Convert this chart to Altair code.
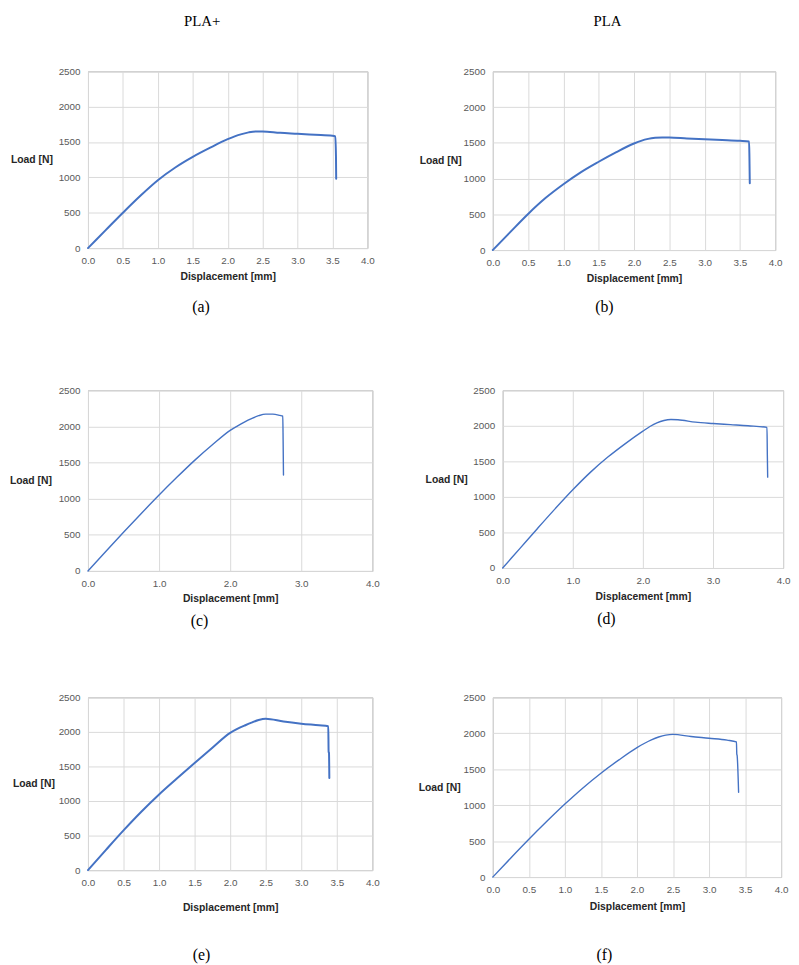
import altair as alt
import pandas as pd

# ---------------- data ----------------
PANELS = ["(a)", "(b)", "(c)", "(d)", "(e)", "(f)"]
COLUMN_TITLES = ["PLA+", "PLA"]
X_TITLE = "Displacement [mm]"
Y_TITLE = "Load [N]"
Y_TICKS = [0, 500, 1000, 1500, 2000, 2500]
X_TICKS_FINE = [0.0, 0.5, 1.0, 1.5, 2.0, 2.5, 3.0, 3.5, 4.0]
X_TICKS_COARSE = [0.0, 1.0, 2.0, 3.0, 4.0]

A_X = [0, 0.25, 0.5, 0.75, 1.0, 1.25, 1.5, 1.75, 2.0, 2.1, 2.2, 2.3, 2.4, 2.5, 2.75, 3.0, 3.25, 3.5, 3.54, 3.55, 3.553]
A_Y = [0, 250, 500, 740, 960, 1140, 1290, 1420, 1540, 1580, 1612, 1637, 1650, 1650, 1630, 1617, 1603, 1589, 1580, 1300, 981]

B_X = [0, 0.25, 0.5, 0.75, 1.0, 1.25, 1.5, 1.75, 2.0, 2.1, 2.2, 2.3, 2.4, 2.5, 2.75, 3.0, 3.25, 3.5, 3.63, 3.635, 3.64]
B_Y = [0, 255, 505, 730, 920, 1090, 1235, 1370, 1490, 1528, 1555, 1570, 1576, 1574, 1562, 1551, 1540, 1528, 1519, 1300, 935]

C_X = [0, 0.25, 0.5, 0.75, 1.0, 1.25, 1.5, 1.75, 2.0, 2.1, 2.2, 2.3, 2.4, 2.5, 2.6, 2.7, 2.74, 2.745, 2.75]
C_Y = [0, 270, 535, 795, 1050, 1295, 1530, 1745, 1945, 2005, 2060, 2108, 2148, 2170, 2170, 2152, 2142, 1800, 1326]

D_X = [0, 0.25, 0.5, 0.75, 1.0, 1.25, 1.5, 1.75, 2.0, 2.1, 2.2, 2.3, 2.4, 2.5, 2.75, 3.0, 3.25, 3.5, 3.77, 3.775, 3.78]
D_Y = [0, 280, 560, 835, 1100, 1345, 1560, 1750, 1925, 1990, 2042, 2075, 2088, 2085, 2051, 2032, 2016, 2000, 1977, 1600, 1278]

E_X = [0, 0.25, 0.5, 0.75, 1.0, 1.25, 1.5, 1.75, 2.0, 2.1, 2.2, 2.3, 2.4, 2.5, 2.75, 3.0, 3.25, 3.38, 3.385, 3.39, 3.395]
E_Y = [0, 290, 575, 845, 1095, 1325, 1550, 1770, 1985, 2042, 2090, 2135, 2172, 2190, 2150, 2119, 2095, 2081, 1710, 1700, 1333]

F_X = [0, 0.25, 0.5, 0.75, 1.0, 1.25, 1.5, 1.75, 2.0, 2.1, 2.2, 2.3, 2.4, 2.5, 2.75, 3.0, 3.25, 3.38, 3.385, 3.39, 3.41]
F_Y = [0, 265, 525, 775, 1015, 1240, 1445, 1630, 1800, 1858, 1908, 1948, 1975, 1985, 1955, 1931, 1905, 1880, 1710, 1690, 1180]

SERIES = {
    "(a)": (A_X, A_Y), "(b)": (B_X, B_Y), "(c)": (C_X, C_Y),
    "(d)": (D_X, D_Y), "(e)": (E_X, E_Y), "(f)": (F_X, F_Y),
}
X_TICKS = {"(a)": X_TICKS_FINE, "(b)": X_TICKS_FINE, "(c)": X_TICKS_COARSE,
           "(d)": X_TICKS_COARSE, "(e)": X_TICKS_FINE, "(f)": X_TICKS_FINE}

# ---------------- styling / layout ----------------
BLUE = "#4472C4"
SANS = "Liberation Sans"
SERIF = "Liberation Serif"

LAYOUT = {
    "(a)": dict(w=283, h=179, tx=-36, ytp=0, xtp=6, cap=17, cdx=-27, sw=2.0),
    "(b)": dict(w=286, h=181, tx=-32, ytp=4, xtp=6, cap=15, cdx=-30, sw=2.0),
    "(c)": dict(w=288, h=183, tx=-37, ytp=4, xtp=5, cap=9, cdx=-31, sw=1.4),
    "(d)": dict(w=284, h=180, tx=-36, ytp=4, xtp=6, cap=9, cdx=-37, sw=1.4),
    "(e)": dict(w=288, h=175, tx=-34, ytp=-2, xtp=15, cap=35, cdx=-29, sw=2.0),
    "(f)": dict(w=292, h=182, tx=-33, ytp=4, xtp=7, cap=36, cdx=-33, sw=1.4),
}


def panel(key):
    xs, ys = SERIES[key]
    L = LAYOUT[key]
    df = pd.DataFrame({"x": xs, "y": ys, "i": list(range(len(xs)))})
    return alt.Chart(df).mark_line(
        color=BLUE, strokeWidth=L["sw"], strokeJoin="round", strokeCap="round",
        interpolate="monotone",
    ).encode(
        x=alt.X("x:Q", scale=alt.Scale(domain=[0, 4], nice=False),
                axis=alt.Axis(title=X_TITLE, values=X_TICKS[key], format=".1f",
                              labelFlush=False, titlePadding=L["xtp"])),
        y=alt.Y("y:Q", scale=alt.Scale(domain=[0, 2500], nice=False),
                axis=alt.Axis(title=Y_TITLE, values=Y_TICKS, format="d",
                              labelFlush=False, titleAngle=0, titlePadding=L["ytp"],
                              titleAlign="right", titleBaseline="middle",
                              titleX=L["tx"], titleY=L["h"] / 2)),
        order=alt.Order("i:Q"),
    ).properties(
        width=L["w"], height=L["h"],
        title=alt.TitleParams(key, orient="bottom", offset=L["cap"], dx=L["cdx"],
                              anchor="middle", frame="group", font=SERIF,
                              fontSize=16, fontWeight="normal", color="black"),
    )


def col_title(text, dx):
    return alt.TitleParams(text, anchor="middle", offset=37, dx=dx, font=SERIF,
                           fontSize=15, fontWeight="normal", color="black")


a = alt.vconcat(panel("(a)"), title=col_title(COLUMN_TITLES[0], 10))
b = alt.vconcat(panel("(b)"), title=col_title(COLUMN_TITLES[1], 7))

row1 = alt.hconcat(a, b, spacing=43)
row2 = alt.hconcat(panel("(c)"), panel("(d)"), spacing=44)
row3 = alt.hconcat(panel("(e)"), panel("(f)"), spacing=37)

chart = alt.vconcat(
    alt.vconcat(row1, row2, spacing=70), row3, spacing=63
).properties(
    padding=0
).configure_view(
    stroke="#a6a6a6", strokeWidth=1
).configure_axis(
    domain=False, ticks=False, grid=True, gridColor="#d9d9d9", gridWidth=1,
    labelFont=SANS, labelFontSize=10, labelColor="#595959", labelPadding=8,
    titleFont=SANS, titleFontSize=10.5, titleFontWeight="bold", titleColor="#262626",
).configure_concat(spacing=40)

chart.save("out.html", embed_options={"renderer": "svg", "actions": False})
